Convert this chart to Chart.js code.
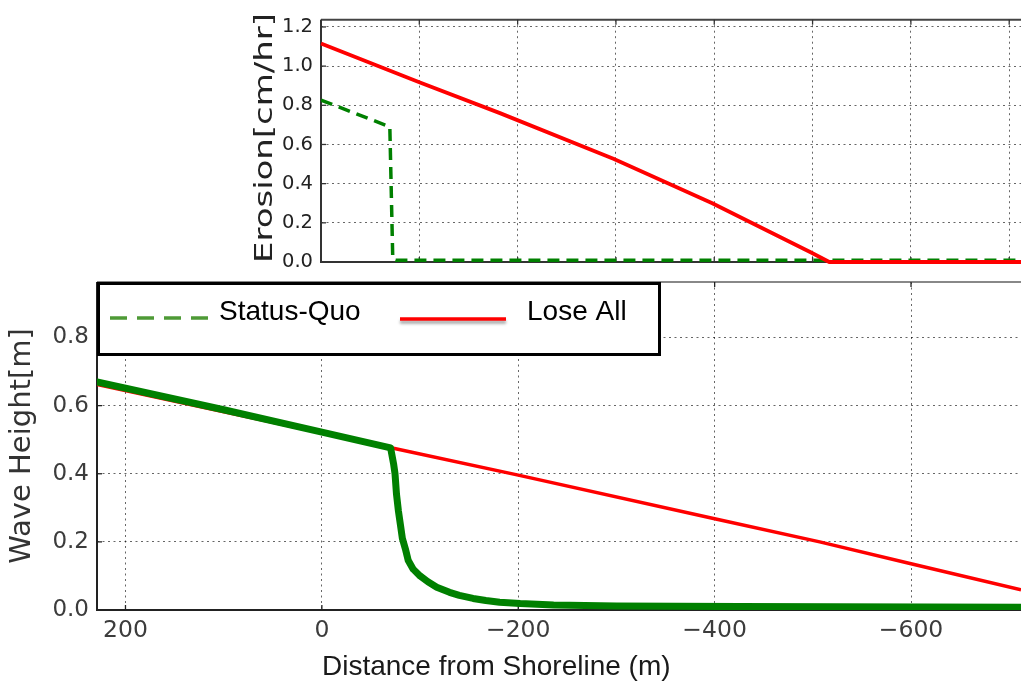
<!DOCTYPE html>
<html>
<head>
<meta charset="utf-8">
<script src="https://cdn.jsdelivr.net/npm/chart.js@4.4.0/dist/chart.umd.min.js"></script>
<style>
  body { margin: 0; background: #fff; }
  #wrap { position: relative; width: 1021px; height: 681px; }
  #wrap canvas { position: absolute; left: 0; top: 0; }
</style>
</head>
<body>
<div id="wrap">
  <canvas id="waveChart" width="1021" height="681"></canvas>
  <canvas id="erosionChart" width="1021" height="282"></canvas>
</div>
<script>
// erosion rate along the profile (upper panel)
const erosionDistStatusQuo = [0, -70, -73, -76, -712];
const erosionStatusQuo     = [0.827, 0.69, 0.015, 0.009, 0.009];
const erosionDistLoseAll   = [0, -100, -182, -298, -398, -498, -517, -712];
const erosionLoseAll       = [1.115, 0.918, 0.76, 0.526, 0.30, 0.05, 0.0, 0.0];

// wave height along the profile (lower panel)
const waveDistStatusQuo = [229, 100, 0, -70, -73, -74.5, -76, -78, -80, -82, -85, -88, -93, -100, -108, -117, -130, -140, -154, -167, -181, -202, -236, -300, -425, -712];
const waveStatusQuo     = [0.67, 0.588, 0.522, 0.476, 0.43, 0.40, 0.34, 0.29, 0.25, 0.21, 0.18, 0.145, 0.12, 0.10, 0.083, 0.067, 0.052, 0.043, 0.034, 0.028, 0.023, 0.019, 0.015, 0.012, 0.01, 0.008];
const waveDistLoseAll   = [229, -74, -200, -400, -507, -600, -712];
const waveLoseAll       = [0.662, 0.474, 0.396, 0.268, 0.2, 0.136, 0.059];

const seriesNames = ['Status-Quo', 'Lose All'];

const erosionTicksX = [0, -100, -200, -300, -400, -500, -600, -700];
const erosionTicksY = [0.0, 0.2, 0.4, 0.6, 0.8, 1.0, 1.2];
const waveTicksX = [200, 0, -200, -400, -600];
const waveTicksY = [0.0, 0.2, 0.4, 0.6, 0.8];

const toPoints = (xs, ys) => xs.map((x, i) => ({ x: x, y: ys[i] }));
const fixTicks = list => scale => { scale.ticks = list.map(v => ({ value: v })); };
const minusFmt = v => (v < 0 ? '\u2212' + Math.abs(v) : String(v));

// box spines plus matplotlib-style inward ticks
function makeFrame(color, topColor) {
  return {
    id: 'frame',
    beforeDatasetsDraw(chart) {
      const { ctx, chartArea: a, scales: { x, y } } = chart;
      const seg = (x0, y0, x1, y1) => { ctx.beginPath(); ctx.moveTo(x0, y0); ctx.lineTo(x1, y1); ctx.stroke(); };
      ctx.save();
      ctx.lineWidth = 2;
      ctx.strokeStyle = topColor;
      seg(a.left, a.top, a.right, a.top);
      ctx.strokeStyle = color;
      seg(a.left, a.top, a.left, a.bottom + 1);
      seg(a.left - 1, a.bottom, a.right, a.bottom);
      ctx.lineWidth = 1.3;
      x.ticks.forEach(t => {
        const p = x.getPixelForValue(t.value);
        seg(p, a.bottom, p, a.bottom - 5);
        seg(p, a.top, p, a.top + 5);
      });
      y.ticks.forEach(t => {
        const p = y.getPixelForValue(t.value);
        seg(a.left, p, a.left + 5, p);
      });
      ctx.restore();
    }
  };
}

// free text: axis titles, optionally rotated and stretched to a given span
function makeCaptions(items) {
  return {
    id: 'captions',
    afterDraw(chart) {
      const ctx = chart.ctx;
      items.forEach(c => {
        ctx.save();
        ctx.font = c.font;
        ctx.fillStyle = c.color;
        ctx.translate(c.x, c.y);
        if (c.rotate) ctx.rotate(-Math.PI / 2);
        if (c.span) ctx.scale(c.span / ctx.measureText(c.text).width, 1);
        ctx.textAlign = c.align || 'center';
        ctx.textBaseline = c.baseline || 'middle';
        ctx.fillText(c.text, 0, 0);
        ctx.restore();
      });
    }
  };
}

// framed legend in the upper-left of the wave panel
function makeBoxLegend(box, items) {
  return {
    id: 'boxLegend',
    afterDraw(chart) {
      const ctx = chart.ctx;
      ctx.save();
      ctx.fillStyle = '#fff';
      ctx.fillRect(box.x, box.y, box.w, box.h);
      ctx.lineWidth = 3;
      ctx.strokeStyle = '#000';
      ctx.strokeRect(box.x + 1.5, box.y + 1.5, box.w - 3, box.h - 3);
      items.forEach((it, i) => {
        ctx.save();
        ctx.strokeStyle = it.color;
        ctx.lineWidth = 3.5;
        ctx.setLineDash(it.dash || []);
        if (it.shadow) {
          ctx.shadowColor = 'rgba(0,0,0,0.35)';
          ctx.shadowOffsetY = 3;
          ctx.shadowBlur = 3;
        }
        ctx.beginPath();
        ctx.moveTo(it.x0, it.y);
        ctx.lineTo(it.x1, it.y);
        ctx.stroke();
        ctx.restore();
        ctx.font = '28px "Liberation Sans", Arial, sans-serif';
        ctx.fillStyle = '#000';
        ctx.textBaseline = 'middle';
        ctx.fillText(chart.data.datasets[i].label, it.tx, box.textY);
      });
      ctx.restore();
    }
  };
}

const gridStyle = { color: 'rgba(0,0,0,0.6)', lineWidth: 1, drawTicks: false };
const gridBorder = { display: false, dash: [2, 3.5] };

new Chart(document.getElementById('waveChart'), {
  type: 'line',
  data: {
    datasets: [{
      label: seriesNames[0],
      data: toPoints(waveDistStatusQuo, waveStatusQuo),
      borderColor: '#008000',
      borderWidth: 7,
      borderJoinStyle: 'round',
      borderCapStyle: 'round',
      pointRadius: 0
    }, {
      label: seriesNames[1],
      data: toPoints(waveDistLoseAll, waveLoseAll),
      borderColor: '#ff0000',
      borderWidth: 3.5,
      pointRadius: 0
    }]
  },
  options: {
    responsive: false,
    animation: false,
    events: [],
    layout: { padding: { top: 282, left: 0, right: 0, bottom: 0 } },
    scales: {
      x: {
        type: 'linear',
        reverse: true,
        min: -712,
        max: 229,
        afterBuildTicks: fixTicks(waveTicksX),
        afterFit: s => { s.height = 71; },
        grid: gridStyle,
        border: gridBorder,
        ticks: {
          padding: 7,
          color: '#3c3c3c',
          font: { family: '"DejaVu Sans"', size: 23.5 },
          callback: minusFmt
        }
      },
      y: {
        min: 0,
        max: 0.963,
        afterBuildTicks: fixTicks(waveTicksY),
        afterFit: s => { s.width = 97; },
        grid: gridStyle,
        border: gridBorder,
        ticks: {
          padding: 8,
          color: '#3c3c3c',
          font: { family: '"DejaVu Sans"', size: 23 },
          callback: v => v.toFixed(1)
        },
        title: {
          display: true,
          text: 'Wave Height[m]',
          color: '#333',
          font: { family: '"DejaVu Sans"', size: 29 },
          padding: { top: 5, bottom: 0 }
        }
      }
    },
    plugins: {
      legend: { display: false },
      tooltip: { enabled: false }
    }
  },
  plugins: [
    makeFrame('#222', '#888'),
    makeCaptions([{
      text: 'Distance from Shoreline (m)', x: 322, y: 675,
      align: 'left', baseline: 'alphabetic',
      font: '28px "Liberation Sans", Arial, sans-serif', color: '#1a1a1a'
    }]),
    makeBoxLegend({ x: 97, y: 282, w: 564, h: 74, textY: 312 }, [
      { color: '#4e9a36', dash: [17, 10], x0: 110, x1: 212, y: 318, tx: 219 },
      { color: '#ff0000', shadow: true, x0: 400, x1: 506, y: 319, tx: 527 }
    ])
  ]
});

new Chart(document.getElementById('erosionChart'), {
  type: 'line',
  data: {
    datasets: [{
      label: seriesNames[0],
      data: toPoints(erosionDistStatusQuo, erosionStatusQuo),
      borderColor: '#008000',
      borderWidth: 3.5,
      borderDash: [12, 7],
      pointRadius: 0,
      order: 1
    }, {
      label: seriesNames[1],
      data: toPoints(erosionDistLoseAll, erosionLoseAll),
      borderColor: '#ff0000',
      borderWidth: 3.8,
      pointRadius: 0,
      order: 0,
      clip: 4
    }]
  },
  options: {
    responsive: false,
    animation: false,
    events: [],
    layout: { padding: { top: 15, left: 0, right: 0, bottom: 0 } },
    scales: {
      x: {
        type: 'linear',
        reverse: true,
        min: -712,
        max: 0,
        afterBuildTicks: fixTicks(erosionTicksX),
        afterFit: s => { s.height = 20; },
        grid: gridStyle,
        border: gridBorder,
        ticks: { display: false }
      },
      y: {
        min: 0,
        max: 1.237,
        afterBuildTicks: fixTicks(erosionTicksY),
        afterFit: s => { s.width = 321; },
        grid: gridStyle,
        border: gridBorder,
        ticks: {
          padding: 8,
          color: '#222',
          font: { family: '"DejaVu Sans"', size: 19.5 },
          callback: v => v.toFixed(1)
        }
      }
    },
    plugins: {
      legend: { display: false },
      tooltip: { enabled: false }
    }
  },
  plugins: [
    makeFrame('#333', '#444'),
    makeCaptions([{
      text: 'Erosion[cm/hr]', x: 266, y: 138, rotate: true, span: 250,
      font: '24px "DejaVu Sans", sans-serif', color: '#222'
    }])
  ]
});
</script>
</body>
</html>
